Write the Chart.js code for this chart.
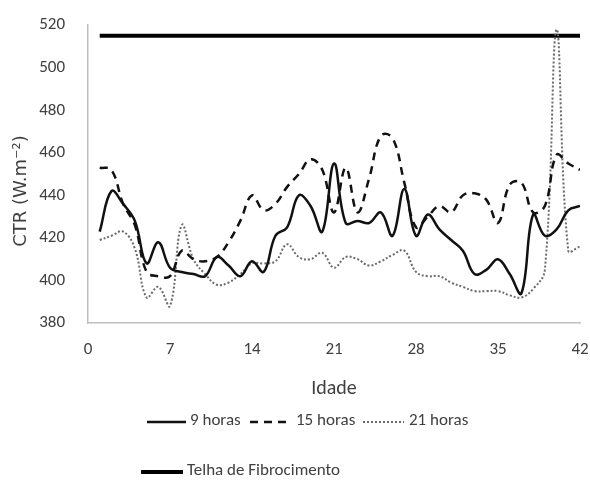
<!DOCTYPE html>
<html>
<head>
<meta charset="utf-8">
<script src="https://cdn.jsdelivr.net/npm/chart.js@4"></script>
<style>
  html, body { margin: 0; padding: 0; background: #fff; }
  #wrap { width: 590px; height: 481px; position: relative; }
</style>
</head>
<body>
<div id="wrap"><canvas id="c" width="590" height="481"></canvas></div>
<script>
// Idade (dias)
const days = [1,2,3,4,5,6,7,8,9,10,11,12,13,14,15,16,17,18,19,20,21,
              22,23,24,25,26,27,28,29,30,31,32,33,34,35,36,37,38,39,40,41,42];

const horas9 = [423,442,436,428,408,418,406,404,403,402,411,407,402,409,404,421,425,440,435,423,455,
                427,428,427,432,421,443,421,431,424,419,414,403,405,410,403,394,431,421,424,433,435];
const horas15 = [453,452,436,426,404,402,402,414,410,409,411,418,428,440,433,436,444,450,457,452,432,
                 453,432,448,468,467,446,425,430,435,432,440,441,438,427,445,446,432,435,459,455,452];
const horas21 = [419,421,423,415,392,397,388,426,410,403,398,399,403,408,408,409,417,411,410,413,406,
                 411,410,407,409,412,414,404,402,402,399,397,395,395,395,393,392,396,405,518,414,416];
const telha = days.map(() => 515);

const xTicks = [0, 7, 14, 21, 28, 35, 42];
const yTicks = [380, 400, 420, 440, 460, 480, 500, 520];

const seriesNames = ['9 horas', '15 horas', '21 horas', 'Telha de Fibrocimento'];
const yTitle = 'CTR (W.m⁻²)';

const FONT = "Carlito, Lato, 'Open Sans', sans-serif";
const TXT = '#404040';

function pts(vals) { return days.map((d, i) => ({ x: d, y: vals[i] })); }

const legendPlugin = {
  id: 'legendRows',
  afterDraw(chart) {
    const ctx = chart.ctx;
    const ds = chart.data.datasets;
    ctx.save();
    ctx.font = '17px ' + FONT;
    ctx.fillStyle = TXT;
    ctx.textBaseline = 'middle';
    const rows = [
      { i: 0, x0: 147, x1: 186, tx: 190, y: 421 },
      { i: 1, x0: 250, x1: 286, tx: 296, y: 421 },
      { i: 2, x0: 363, x1: 404, tx: 409, y: 421 },
      { i: 3, x0: 141, x1: 183, tx: 187, y: 471 }
    ];
    rows.forEach(r => {
      const d = ds[r.i];
      ctx.beginPath();
      ctx.strokeStyle = d.borderColor;
      ctx.lineWidth = d.borderWidth;
      ctx.setLineDash(d.borderDash || []);
      ctx.moveTo(r.x0, r.y + 1);
      ctx.lineTo(r.x1, r.y + 1);
      ctx.stroke();
      ctx.setLineDash([]);
      ctx.fillText(d.label, r.tx, r.y);
    });

    // y axis title, placed like the original (a bit below the plot centre)
    ctx.translate(21, 191);
    ctx.rotate(-Math.PI / 2);
    ctx.font = "18px 'DejaVu Sans', sans-serif";
    ctx.textAlign = 'center';
    ctx.fillText(yTitle, 0, 0);
    ctx.restore();
  }
};

new Chart(document.getElementById('c'), {
  type: 'line',
  data: {
    datasets: [
      { label: seriesNames[0], data: pts(horas9), borderColor: '#111', borderWidth: 2.5, tension: 0.4 },
      { label: seriesNames[1], data: pts(horas15), borderColor: '#111', borderWidth: 2.5, borderDash: [8, 6], tension: 0.4 },
      { label: seriesNames[2], data: pts(horas21), borderColor: '#6a6a6a', borderWidth: 2, borderDash: [2, 2], tension: 0.4 },
      { label: seriesNames[3], data: pts(telha), borderColor: '#000', borderWidth: 4, tension: 0 }
    ]
  },
  options: {
    responsive: false,
    animation: false,
    devicePixelRatio: 1,
    elements: { point: { radius: 0 } },
    layout: { padding: { top: 12, right: 10, bottom: 78, left: 0 } },
    plugins: { legend: { display: false }, tooltip: { enabled: false } },
    scales: {
      x: {
        type: 'linear', min: 0, max: 42,
        afterBuildTicks: s => { s.ticks = xTicks.map(v => ({ value: v })); },
        afterFit: s => { s.height = 80; s.paddingLeft = 0; s.paddingRight = 0; },
        grid: { display: false },
        border: { display: true, color: '#bfbfbf', width: 1.5 },
        ticks: { color: TXT, font: { family: FONT, size: 17 }, padding: 9, maxRotation: 0 },
        title: { display: true, text: 'Idade', color: TXT, font: { family: FONT, size: 20 }, padding: { top: 8, bottom: 2 } }
      },
      y: {
        min: 380, max: 520,
        afterBuildTicks: s => { s.ticks = yTicks.map(v => ({ value: v })); },
        afterFit: s => { s.width = 88; },
        grid: { display: false },
        border: { display: true, color: '#bfbfbf', width: 1.5 },
        ticks: { color: TXT, font: { family: FONT, size: 17 }, padding: 15 }
      }
    }
  },
  plugins: [legendPlugin]
});
</script>
</body>
</html>
